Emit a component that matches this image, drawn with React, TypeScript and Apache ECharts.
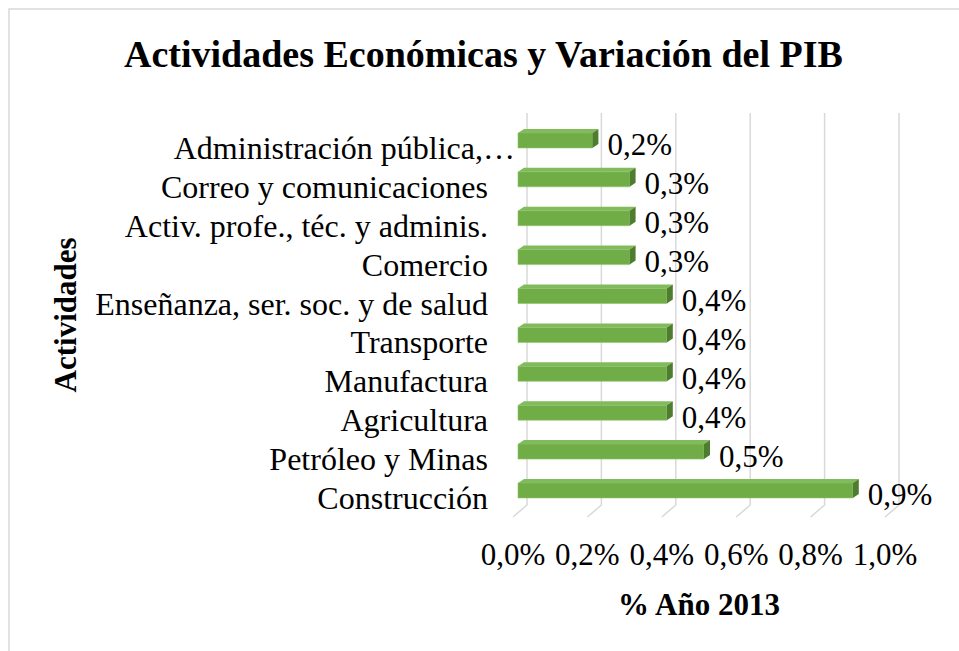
import React, { useEffect, useRef } from "react";
import * as echarts from "echarts";

const categories = [
  "Construcción",
  "Petróleo y Minas",
  "Agricultura",
  "Manufactura",
  "Transporte",
  "Enseñanza, ser. soc. y de salud",
  "Comercio",
  "Activ. profe., téc. y adminis.",
  "Correo y comunicaciones",
  "Administración pública,…",
];
const values = [0.9, 0.5, 0.4, 0.4, 0.4, 0.4, 0.3, 0.3, 0.3, 0.2];
const tickValues = [0, 0.2, 0.4, 0.6, 0.8, 1.0];

const titleText = "Actividades Económicas y Variación del PIB";
const xName = "% Año 2013";
const yName = "Actividades";

const FONT = "Liberation Serif, Times New Roman, serif";
const fmt = (v: number) => v.toFixed(1).replace(".", ",") + "%";

export default function App() {
  const ref = useRef<HTMLDivElement>(null);
  useEffect(() => {
    if (!ref.current) return;
    const chart = echarts.init(ref.current, null, { renderer: "svg" });
    const option: any = {
      animation: false,
      backgroundColor: "#ffffff",
      title: {
        text: titleText,
        left: 119,
        top: 30,
        textStyle: { fontFamily: FONT, fontSize: 38, fontWeight: "bold", color: "#000" },
      },
      graphic: [
        {
          type: "rect",
          shape: { x: 9, y: 9, width: 2000, height: 2000 },
          style: { fill: "none", stroke: "#d9d9d9", lineWidth: 1.5 },
          silent: true,
          z: -10,
        },
      ],
      grid: { left: 513, right: 74, top: 120.5, bottom: 651 - 509.4, containLabel: false },
      xAxis: {
        type: "value",
        min: 0,
        max: 1.0,
        interval: 0.2,
        axisLine: { show: false },
        axisTick: { show: false },
        splitLine: { show: false },
        axisLabel: {
          margin: 30,
          fontFamily: FONT,
          fontSize: 31,
          color: "#000",
          formatter: (v: number) => fmt(v),
        },
        name: xName,
        nameLocation: "middle",
        nameGap: 80,
        nameTextStyle: { fontFamily: FONT, fontSize: 31, fontWeight: "bold", color: "#000" },
      },
      yAxis: {
        type: "category",
        data: categories,
        axisLine: { show: false },
        axisTick: { show: false },
        axisLabel: {
          interval: 0,
          margin: 25,
          fontFamily: FONT,
          fontSize: 32,
          color: "#000",
          padding: [16, 0, 0, 0],
          formatter: (v: string) => (v.endsWith("…") ? `{t|${v}}` : v),
          rich: {
            t: { fontFamily: FONT, fontSize: 32, color: "#000", padding: [0, -27, 0, 0] },
          },
        },
        name: yName,
        nameLocation: "middle",
        nameGap: 432,
        nameRotate: 90,
        nameTextStyle: { fontFamily: FONT, fontSize: 31, fontWeight: "bold", color: "#000" },
      },
      series: [
        {
          type: "custom",
          name: "grid",
          clip: false,
          silent: true,
          z: 1,
          data: tickValues.map((t) => [t, 0]),
          encode: { x: 0, y: 1 },
          renderItem: (params: any, api: any) => {
            const cs = params.coordSys;
            const x = api.coord([api.value(0), 0])[0];
            const bottom = cs.y + cs.height;
            const top = cs.y;
            return {
              type: "polyline",
              shape: {
                points: [
                  [x, bottom + 7.6],
                  [x + 14, bottom - 4.4],
                  [x + 14, top - 7.5],
                ],
              },
              style: { stroke: "#d9d9d9", lineWidth: 1.5, fill: "none" },
            };
          },
        },
        {
          type: "custom",
          name: "bars",
          clip: false,
          z: 5,
          data: values.map((v, i) => [v, i]),
          encode: { x: 0, y: 1 },
          renderItem: (params: any, api: any) => {
            const v = api.value(0);
            const cat = api.value(1);
            const p0 = api.coord([0, cat]);
            const p1 = api.coord([v, cat]);
            const x0 = p0[0] + 5;
            const x1 = p1[0] + 5;
            const yc = p0[1];
            const yT = yc - 7;
            const yB = yc + 8;
            const dx = 6;
            const dy = 4;
            return {
              type: "group",
              children: [
                {
                  type: "rect",
                  shape: { x: x0, y: yT, width: x1 - x0, height: yB - yT },
                  style: { fill: "#70AD47", stroke: "#8fc46a", lineWidth: 0.6 },
                },
                {
                  type: "polygon",
                  shape: { points: [[x0, yT], [x1, yT], [x1 + dx, yT - dy], [x0 + dx, yT - dy]] },
                  style: { fill: "#82bb5b" },
                },
                {
                  type: "polygon",
                  shape: { points: [[x1, yT], [x1 + dx, yT - dy], [x1 + dx, yB - dy], [x1, yB]] },
                  style: { fill: "#4f7d2f" },
                },
                {
                  type: "text",
                  style: {
                    text: fmt(v),
                    x: x1 + dx + 9,
                    y: yc + 5,
                    fontFamily: FONT,
                    fontSize: 31,
                    fill: "#000",
                    verticalAlign: "middle",
                    align: "left",
                  },
                },
              ],
            };
          },
        },
      ],
    };
    chart.setOption(option);
    return () => chart.dispose();
  }, []);
  return (
    <div
      ref={ref}
      style={{ position: "fixed", left: 0, top: 0, width: 959, height: 651, background: "#fff" }}
    />
  );
}
